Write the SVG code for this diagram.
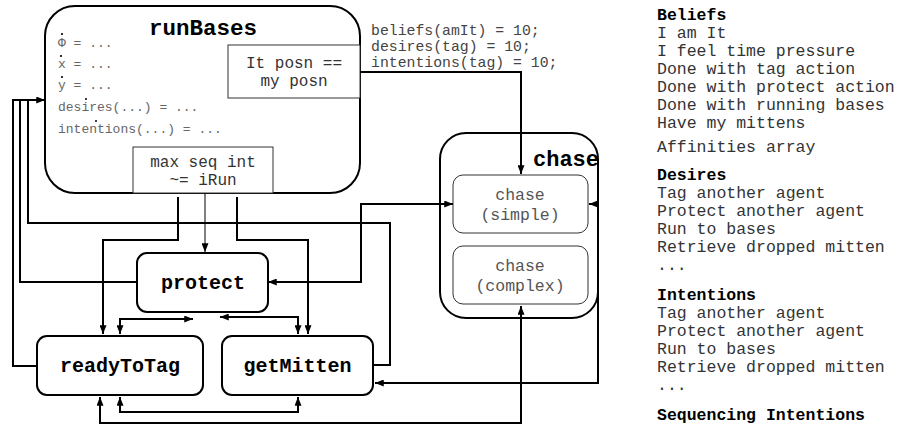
<svg xmlns="http://www.w3.org/2000/svg" width="901" height="428" viewBox="0 0 901 428">
<style>
.box{fill:#fff;stroke:#000;stroke-width:2}
.ibox{fill:#fff;stroke:#333;stroke-width:1}
.t{font-family:"Liberation Mono","Courier New",monospace}
.b{font-family:"Liberation Mono","Courier New",monospace;font-weight:bold;fill:#000}
.var{font-size:13px;fill:#666}
.lst{font-size:16.5px;fill:#333}
.hd{font-size:16.5px}
.c{fill:none;stroke:#000;stroke-width:2}
.thin{fill:none;stroke:#000;stroke-width:1}
.dot{fill:#000}
</style>
<defs>
<marker id="ah" viewBox="0 0 10 8" refX="10" refY="4" markerWidth="9" markerHeight="7" markerUnits="userSpaceOnUse" orient="auto-start-reverse">
<path d="M0,0 L10,4 L0,8 z" fill="#000"/>
</marker>
</defs>
<rect width="901" height="428" fill="#fff"/>

<g id="runBases">
<rect class="box" x="45" y="6" width="315" height="187" rx="30"/>
<text class="b" x="203" y="35" font-size="22.5" text-anchor="middle">runBases</text>
<text class="t var" x="58" y="47">Φ = ...</text>
<text class="t var" x="58" y="68">x = ...</text>
<text class="t var" x="58" y="89">y = ...</text>
<text class="t var" x="58" y="111">desires(...) = ...</text>
<text class="t var" x="58" y="133">intentions(...) = ...</text>
<circle class="dot" cx="62" cy="34" r="1.1"/>
<circle class="dot" cx="61" cy="56" r="1.1"/>
<circle class="dot" cx="62" cy="77" r="1.1"/>
<circle class="dot" cx="86" cy="99" r="1"/>
<circle class="dot" cx="96" cy="121" r="1"/>
<rect class="ibox" x="228" y="45" width="132" height="53"/>
<text class="t" x="294" y="68" font-size="16" fill="#333" text-anchor="middle">It posn ==</text>
<text class="t" x="294" y="86" font-size="16" fill="#333" text-anchor="middle">my posn</text>
<rect class="ibox" x="133" y="147" width="140" height="46"/>
<text class="t" x="203" y="167" font-size="16" fill="#333" text-anchor="middle">max seq int</text>
<text class="t" x="203" y="185" font-size="16" fill="#333" text-anchor="middle">~= iRun</text>
</g>

<g id="chase">
<rect class="box" x="440" y="133" width="158" height="185" rx="26"/>
<text class="b" x="533" y="166" font-size="22">chase</text>
</g>
<g id="chaseSimple">
<rect class="ibox" x="453" y="175" width="135" height="58" rx="10"/>
<text class="t" x="520" y="200" font-size="16.5" fill="#555" text-anchor="middle">chase</text>
<text class="t" x="520" y="220" font-size="16.5" fill="#555" text-anchor="middle">(simple)</text>
</g>
<g id="chaseComplex">
<rect class="ibox" x="453" y="246" width="135" height="58" rx="10"/>
<text class="t" x="520" y="271" font-size="16.5" fill="#555" text-anchor="middle">chase</text>
<text class="t" x="520" y="291" font-size="16.5" fill="#555" text-anchor="middle">(complex)</text>
</g>

<g id="protect">
<rect class="box" x="137" y="253" width="131" height="59" rx="10"/>
<text class="b" x="203" y="289" font-size="20" text-anchor="middle">protect</text>
</g>
<g id="readyToTag">
<rect class="box" x="37" y="336" width="166" height="59" rx="10"/>
<text class="b" x="120" y="372" font-size="20" text-anchor="middle">readyToTag</text>
</g>
<g id="getMitten">
<rect class="box" x="222" y="336" width="151" height="59" rx="10"/>
<text class="b" x="297.5" y="372" font-size="20" text-anchor="middle">getMitten</text>
</g>

<g id="connectors">
<path class="c" d="M37,366 H13 V100 H45" marker-end="url(#ah)"/>
<path class="c" d="M137,282 H20 V100 H45"/>
<path class="c" d="M373,365 H390 V223 H28 V100 H45"/>
<path class="c" d="M178,197 V240 H103 V334" marker-end="url(#ah)"/>
<path class="thin" d="M205,193 V252" marker-end="url(#ah)"/>
<path class="c" d="M237,197 V240 H308 V334" marker-end="url(#ah)"/>
<path class="c" d="M268,282 H361 V204 H453" marker-start="url(#ah)" marker-end="url(#ah)"/>
<path class="c" d="M193,319 H120 V334" marker-start="url(#ah)" marker-end="url(#ah)"/>
<path class="c" d="M220,317 H298 V334" marker-start="url(#ah)" marker-end="url(#ah)"/>
<path class="c" d="M120,397 V412 H298 V397" marker-start="url(#ah)" marker-end="url(#ah)"/>
<path class="c" d="M100,397 V423 H521 V306" marker-start="url(#ah)" marker-end="url(#ah)"/>
<path class="c" d="M375,383 H598 V204 H589" marker-start="url(#ah)" marker-end="url(#ah)"/>
<path class="c" d="M360,72 H521 V174" marker-end="url(#ah)"/>
</g>

<g id="annotation">
<text class="t" x="371" y="35" font-size="14.8" fill="#444">beliefs(amIt) = 10;</text>
<text class="t" x="371" y="51" font-size="14.8" fill="#444">desires(tag) = 10;</text>
<text class="t" x="371" y="67" font-size="14.8" fill="#444">intentions(tag) = 10;</text>
</g>

<g id="legend">
<text class="b hd" x="657" y="20">Beliefs</text>
<text class="t lst" x="657" y="38">I am It</text>
<text class="t lst" x="657" y="56">I feel time pressure</text>
<text class="t lst" x="657" y="74">Done with tag action</text>
<text class="t lst" x="657" y="92">Done with protect action</text>
<text class="t lst" x="657" y="110">Done with running bases</text>
<text class="t lst" x="657" y="128">Have my mittens</text>
<text class="t lst" x="657" y="152">Affinities array</text>
<text class="b hd" x="657" y="180">Desires</text>
<text class="t lst" x="657" y="198">Tag another agent</text>
<text class="t lst" x="657" y="216">Protect another agent</text>
<text class="t lst" x="657" y="234">Run to bases</text>
<text class="t lst" x="657" y="252">Retrieve dropped mitten</text>
<text class="t lst" x="657" y="270">...</text>
<text class="b hd" x="657" y="300">Intentions</text>
<text class="t lst" x="657" y="318">Tag another agent</text>
<text class="t lst" x="657" y="336">Protect another agent</text>
<text class="t lst" x="657" y="354">Run to bases</text>
<text class="t lst" x="657" y="372">Retrieve dropped mitten</text>
<text class="t lst" x="657" y="390">...</text>
<text class="b hd" x="657" y="420">Sequencing Intentions</text>
</g>
</svg>
